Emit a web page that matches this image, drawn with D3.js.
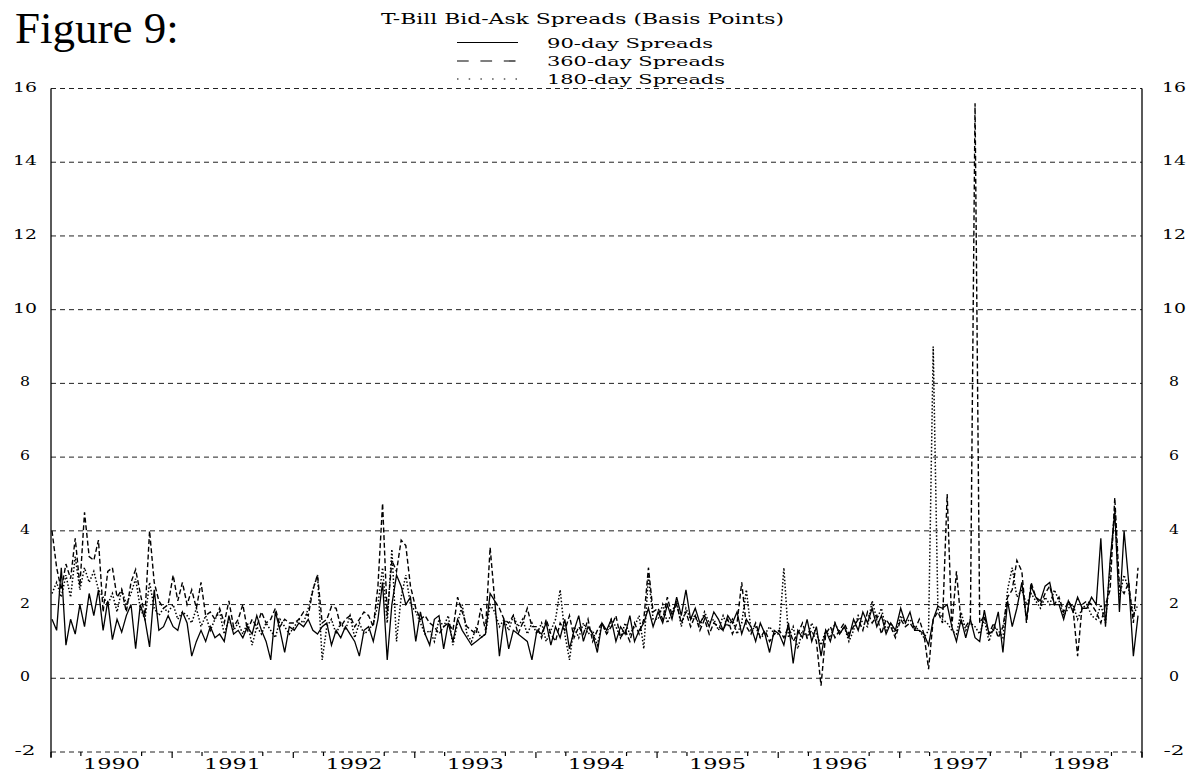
<!DOCTYPE html>
<meta charset="utf-8">
<style>
    body { margin: 0; background: #fff; overflow: hidden; }
    text { font-family: "DejaVu Serif", serif; fill: #000; }
</style>
<svg id="canvas" width="1199" height="774"></svg>
<script src="https://d3js.org/d3.v7.min.js"></script>
<script>

    // biweekly readings, 26 per year, 1990..1998
    var years = [1990, 1991, 1992, 1993, 1994, 1995, 1996, 1997, 1998];

    var spread90 = [
      1.6, 1.3, 3.0, 0.9, 1.6, 1.2, 2.0, 1.4, 2.3, 1.7, 2.4, 1.3, 2.1, 1.05, 1.6, 1.25, 1.7, 2.0, 0.8, 2.0, 1.6, 0.85, 2.4, 1.3, 1.4, 1.7,
      1.4, 1.3, 1.8, 1.5, 0.6, 1.0, 1.3, 1.0, 1.4, 1.1, 1.2, 1.0, 1.7, 1.2, 1.3, 1.1, 1.4, 1.2, 1.7, 1.3, 1.0, 0.5, 1.8, 1.3, 0.7, 1.4,
      1.3, 1.5, 1.4, 1.6, 1.3, 1.2, 1.4, 1.5, 0.9, 1.3, 1.1, 1.4, 1.2, 1.0, 0.6, 1.3, 1.4, 1.0, 1.6, 2.6, 0.5, 2.0, 2.8, 2.5, 2.0, 2.2,
      1.0, 1.8, 1.2, 0.9, 1.6, 1.7, 0.8, 1.5, 1.0, 1.6, 1.3, 1.1, 0.9, 1.0, 1.1, 1.2, 2.3, 2.1, 0.6, 1.6, 0.8, 1.3, 1.2, 1.1, 1.0, 0.5,
      1.3, 1.2, 1.5, 0.9, 1.4, 1.1, 1.6, 0.8, 1.3, 1.7, 1.0, 1.4, 1.2, 0.7, 1.5, 1.3, 1.6, 1.0, 1.4, 1.2, 1.7, 1.0, 1.3, 1.5, 1.9, 1.4,
      1.8, 1.5, 2.0, 1.6, 2.2, 1.7, 2.4, 1.6, 1.9, 1.5, 1.7, 1.4, 1.8, 1.6, 1.3, 1.7, 1.5, 1.8, 1.2, 1.6, 1.4, 1.0, 1.5, 1.2, 0.7, 1.3,
      1.2, 0.9, 1.5, 0.4, 1.3, 1.1, 1.6, 1.0, 1.4, 0.6, 1.3, 1.0, 1.5, 1.2, 1.4, 1.1, 1.6, 1.3, 1.8, 1.5, 1.9, 1.4, 1.7, 1.2, 1.5, 1.3,
      1.9, 1.5, 1.8, 1.3, 1.3, 1.2, 0.9, 1.6, 1.95, 1.9, 2.0, 1.4, 1.0, 1.6, 1.1, 1.6, 1.1, 1.0, 1.85, 1.2, 1.3, 1.8, 0.7, 2.1, 1.4, 1.9,
      2.6, 1.6, 2.5, 2.2, 2.1, 2.5, 2.6, 2.0, 2.0, 1.6, 2.1, 1.8, 2.2, 1.9, 1.9, 2.2, 2.0, 3.8, 1.4, 3.2, 4.5, 1.8, 4.0, 2.6, 0.6, 1.7
    ];

    var spread360 = [
      4.0, 3.0, 2.4, 3.1, 2.7, 3.8, 2.5, 4.5, 3.3, 3.2, 3.75, 1.8, 2.9, 3.0, 2.2, 2.4, 1.8, 2.6, 2.95, 2.3, 1.7, 4.0, 2.6, 2.1, 1.9, 2.0,
      2.8, 2.1, 2.6, 2.0, 2.4, 1.9, 2.6, 1.7, 1.8, 1.6, 1.9, 1.5, 2.1, 1.4, 1.6, 2.0, 1.3, 1.6, 1.4, 1.8, 1.5, 1.6, 1.9, 1.4, 1.6, 1.5,
      1.5, 1.6, 1.8, 1.7, 2.4, 2.8, 1.5, 1.6, 1.95, 1.9, 1.4, 1.6, 1.7, 1.4, 1.6, 1.8, 1.7, 1.4, 2.5, 4.75, 1.7, 3.2, 2.9, 3.75, 3.6, 2.5,
      1.9, 1.6, 1.7, 1.5, 1.4, 1.2, 1.4, 1.5, 1.3, 2.2, 1.8, 1.4, 1.3, 1.2, 1.9, 1.3, 3.55, 2.1, 1.9, 1.6, 1.5, 1.7, 1.2, 1.5, 1.9, 1.4,
      1.4, 1.1, 1.6, 1.2, 1.0, 1.5, 1.3, 1.7, 1.1, 1.4, 1.2, 1.6, 1.0, 1.3, 1.5, 1.2, 1.4, 1.7, 1.1, 1.3, 1.0, 1.5, 1.2, 1.6, 3.0, 1.8,
      1.9, 1.6, 2.2, 1.7, 2.0, 1.5, 1.8, 1.4, 1.7, 1.3, 1.6, 1.2, 1.5, 1.4, 1.3, 1.6, 1.2, 1.5, 2.6, 1.4, 1.2, 1.5, 1.1, 1.3, 1.0, 1.2,
      1.3, 1.1, 1.4, 1.0, 1.2, 1.5, 1.1, 1.3, 1.0, -0.2, 1.2, 1.4, 1.1, 1.3, 1.5, 1.2, 1.4, 1.6, 1.3, 1.8, 1.5, 1.7, 1.2, 1.6, 1.4, 1.1,
      1.6, 1.4, 1.5, 1.3, 1.6, 1.2, 0.25, 1.6, 1.8, 1.5, 5.0, 1.4, 2.9, 1.5, 1.4, 1.6, 15.6, 1.5, 1.7, 1.2, 1.5, 1.1, 1.4, 2.2, 2.4, 3.2,
      2.9, 1.5, 2.6, 2.2, 2.0, 2.3, 2.5, 2.0, 2.2, 1.8, 2.1, 1.9, 0.6, 2.0, 2.1, 2.0, 1.8, 1.5, 2.0, 2.4, 4.9, 2.5, 2.3, 2.6, 1.5, 3.0
    ];

    var spread180 = [
      2.3, 2.6, 2.2, 2.8, 2.2, 3.3, 2.4, 3.0, 2.6, 2.9, 2.4, 2.2, 2.0, 2.3, 1.8, 2.4, 2.0, 2.3, 2.7, 1.9, 1.6, 2.6, 1.9, 1.7, 1.9, 1.8,
      2.0, 1.6, 1.8, 1.7, 1.5, 1.9, 1.4, 1.7, 1.3, 1.6, 1.8, 1.2, 1.6, 1.3, 1.5, 1.2, 1.5, 0.9, 1.4, 1.2, 1.5, 1.3, 1.1, 1.6, 1.4, 1.2,
      1.4, 1.6, 1.5, 1.9, 2.4, 2.8, 0.5, 1.4, 1.6, 1.2, 1.5, 1.3, 1.7, 1.1, 1.5, 1.2, 1.3, 1.5, 2.0, 3.0, 1.5, 3.5, 1.0, 2.2, 2.8, 2.0,
      1.8, 1.5, 1.2, 1.3, 1.0, 1.6, 1.4, 1.7, 0.9, 1.5, 2.0, 1.2, 1.0, 1.4, 1.1, 1.2, 2.0, 1.8, 1.4, 1.6, 1.3, 1.7, 1.4, 1.6, 1.2, 1.5,
      1.2, 1.5, 1.0, 1.3, 1.6, 2.4, 1.2, 0.5, 1.4, 1.1, 1.5, 1.2, 1.3, 0.9, 1.5, 1.2, 1.6, 1.4, 1.1, 1.5, 1.2, 1.4, 1.7, 0.8, 2.8, 1.6,
      1.6, 2.0, 1.5, 1.8, 2.1, 1.4, 1.9, 1.6, 1.7, 1.4, 1.8, 1.5, 1.6, 1.3, 1.7, 1.4, 1.6, 1.2, 1.5, 2.4, 1.3, 1.4, 1.1, 1.2, 1.4, 1.2,
      1.2, 3.0, 1.1, 1.4, 0.8, 1.3, 1.1, 1.5, 1.2, 0.9, 1.3, 1.1, 1.5, 1.2, 1.4, 1.0, 1.3, 1.7, 1.5, 1.4, 2.1, 1.6, 1.9, 1.3, 1.5, 1.2,
      1.7, 1.5, 1.6, 1.4, 1.3, 1.1, 1.3, 9.0, 1.9, 1.6, 1.5, 1.3, 1.2, 1.8, 1.3, 1.5, 1.4, 1.2, 1.6, 1.0, 1.4, 1.3, 1.1, 2.4, 3.0, 2.2,
      2.4, 2.0, 2.3, 2.1, 1.9, 2.2, 2.0, 2.4, 2.1, 1.7, 1.9, 2.0, 1.6, 1.9, 2.0, 1.7, 1.6, 2.0, 1.5, 3.0, 4.6, 2.2, 2.8, 2.4, 1.7, 2.0
    ];

    var yTicks = [-2, 0, 2, 4, 6, 8, 10, 12, 14, 16];

    var legendItems = [
      { label: "90-day Spreads", dash: null, len: 166 },
      { label: "360-day Spreads", dash: "11.7,11.7", len: 178 },
      { label: "180-day Spreads", dash: "1.5,10.2", len: 178 }
    ];

    var svg = d3.select("svg"),
        plotLeft = 51, plotRight = 1142, plotTop = 88.5, plotBottom = 752;

    // one reading every 14 days inside each year
    var dates = [];
    years.forEach(function(yr) {
      for (var j = 0; j < 26; j++) dates.push(new Date(yr, 0, 4 + j * 14));
    });

    var x = d3.scaleTime()
              .domain([new Date(1990, 0, 1), new Date(1999, 0, 1)])
              .range([plotLeft, plotRight]);
    var y = d3.scaleLinear().domain([-2, 16]).range([plotBottom, plotTop]);

    // horizontal grid (top and bottom edges too)
    svg.append("g").selectAll("line")
       .data(yTicks).enter().append("line")
       .attr("x1", plotLeft).attr("x2", plotRight)
       .attr("y1", function(d) { return y(d); })
       .attr("y2", function(d) { return y(d); })
       .attr("stroke", "#222").attr("stroke-width", 1)
       .attr("stroke-dasharray", "5,4");

    // side axes
    [plotLeft, plotRight].forEach(function(px) {
      svg.append("line")
         .attr("x1", px).attr("x2", px).attr("y1", plotTop).attr("y2", plotBottom + 5)
         .attr("stroke", "#000").attr("stroke-width", 1.3);
    });

    var labelLen = function(d) { return String(d).length == 1 ? 10 : (d < 0 ? 21 : 24); };

    // y labels both sides
    [25, 1174].forEach(function(cx) {
      svg.append("g").selectAll("text")
         .data(yTicks).enter().append("text")
         .attr("x", function(d) { return cx - labelLen(d) / 2; })
         .attr("y", function(d) { return y(d) + 3; })
         .attr("font-size", 12)
         .attr("textLength", labelLen).attr("lengthAdjust", "spacingAndGlyphs")
         .text(function(d) { return d; });
    });

    // x ticks: year starts long, quarters short (mid-year hidden under label)
    var quarters = d3.timeMonth.every(3).range(new Date(1990, 0, 1), new Date(1999, 0, 2));
    svg.append("g").selectAll("line")
       .data(quarters.filter(function(d) { return d.getMonth() != 6; }))
       .enter().append("line")
       .attr("x1", function(d) { return x(d); }).attr("x2", function(d) { return x(d); })
       .attr("y1", plotBottom)
       .attr("y2", function(d) { return d.getMonth() == 0 ? plotBottom + 6 : plotBottom + 4; })
       .attr("stroke", "#000").attr("stroke-width", 1.2);

    svg.append("g").selectAll("text")
       .data(years).enter().append("text")
       .attr("x", function(d) { return x(new Date(d, 6, 2)) - 28.5; })
       .attr("y", 769)
       .attr("font-size", 14)
       .attr("textLength", 57).attr("lengthAdjust", "spacingAndGlyphs")
       .text(function(d) { return d; });

    // series
    var line = d3.line()
                 .x(function(d, i) { return x(dates[i]); })
                 .y(function(d) { return y(d); });

    svg.append("path").datum(spread180)
       .attr("fill", "none").attr("stroke", "#000").attr("stroke-width", 1.5)
       .attr("stroke-dasharray", "1.5,2").attr("d", line);
    svg.append("path").datum(spread360)
       .attr("fill", "none").attr("stroke", "#000").attr("stroke-width", 1.4)
       .attr("stroke-dasharray", "5,2.7").attr("d", line);
    svg.append("path").datum(spread90)
       .attr("fill", "none").attr("stroke", "#000").attr("stroke-width", 1.3)
       .attr("d", line);

    // headings
    svg.append("text").attr("x", 15).attr("y", 43)
       .style("font-family", "'Liberation Serif', 'Times New Roman', serif")
       .attr("font-size", 45).text("Figure 9:");

    svg.append("text").attr("x", 381).attr("y", 24)
       .attr("font-size", 15).attr("textLength", 403).attr("lengthAdjust", "spacingAndGlyphs")
       .text("T-Bill Bid-Ask Spreads (Basis Points)");

    // legend
    var leg = svg.append("g").selectAll("g")
                 .data(legendItems).enter().append("g")
                 .attr("transform", function(d, i) { return "translate(0," + [42.5, 61, 79][i] + ")"; });
    leg.append("line")
       .attr("x1", 457).attr("x2", 518).attr("y1", 0).attr("y2", 0)
       .attr("stroke", "#000").attr("stroke-width", 1.2)
       .attr("stroke-dasharray", function(d) { return d.dash; });
    leg.append("text")
       .attr("x", 547).attr("y", 5)
       .attr("font-size", 13)
       .attr("textLength", function(d) { return d.len; }).attr("lengthAdjust", "spacingAndGlyphs")
       .text(function(d) { return d.label; });

</script>
